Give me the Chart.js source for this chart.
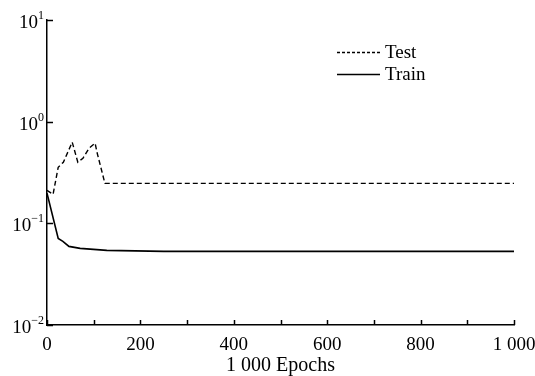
<!DOCTYPE html>
<html>
<head>
<meta charset="utf-8">
<script src="https://cdn.jsdelivr.net/npm/chart.js@4/dist/chart.umd.min.js"></script>
<style>
html,body{margin:0;padding:0;background:#fff;}
#wrap{width:535px;height:376px;}
</style>
</head>
<body>
<div id="wrap"><canvas id="c" width="535" height="376"></canvas></div>
<script>
const testEpochs = [0, 13, 24, 35, 54, 66, 77, 90, 103, 107, 124, 1000];
const testLoss   = [0.211, 0.193, 0.356, 0.399, 0.628, 0.399, 0.437, 0.548, 0.614, 0.501, 0.247, 0.247];
const trainEpochs = [0, 24, 34, 47, 71, 128, 250, 1000];
const trainLoss   = [0.198, 0.071, 0.0665, 0.0593, 0.0567, 0.0542, 0.053, 0.053];
const xTicks = [0, 200, 400, 600, 800, 1000];
const yDecades = [-2, -1, 0, 1];
const seriesNames = ['Test', 'Train'];
const xTitle = '1 000 Epochs';

const serif = "'Liberation Serif', 'Times New Roman', serif";

const toPts = (xs, ys) => xs.map((x, i) => ({x: x, y: ys[i]}));

const decor = {
  id: 'decor',
  afterDraw(chart) {
    const ctx = chart.ctx;
    const xs = chart.scales.x, ys = chart.scales.y;
    const area = chart.chartArea;
    ctx.save();
    ctx.strokeStyle = '#000';
    ctx.lineWidth = 1.5;
    for (let v = 0; v <= 1000; v += 100) {
      const px = Math.round(xs.getPixelForValue(v)) + 0.5;
      ctx.beginPath();
      ctx.moveTo(px, area.bottom);
      ctx.lineTo(px, area.bottom - 5);
      ctx.stroke();
    }
    ctx.fillStyle = '#000';
    ctx.textBaseline = 'alphabetic';
    yDecades.forEach(e => {
      const py = Math.round(ys.getPixelForValue(Math.pow(10, e))) + 0.5;
      ctx.beginPath();
      ctx.moveTo(area.left, py);
      ctx.lineTo(area.left + 6, py);
      ctx.stroke();
      const expTxt = e < 0 ? '\u2212' + Math.abs(e) : String(e);
      ctx.font = '12px ' + serif;
      const ew = ctx.measureText(expTxt).width;
      ctx.font = '19px ' + serif;
      const bw = ctx.measureText('10').width;
      const right = area.left - 3;
      ctx.textAlign = 'left';
      ctx.fillText('10', right - ew - bw, py + 7);
      ctx.font = '12px ' + serif;
      ctx.fillText(expTxt, right - ew, py - 2);
    });
    const items = [
      {label: seriesNames[0], dash: [3, 2], y: 52.5, lw: 1.3},
      {label: seriesNames[1], dash: [], y: 74.5, lw: 1.5}
    ];
    items.forEach(it => {
      ctx.setLineDash(it.dash);
      ctx.lineWidth = it.lw;
      ctx.beginPath();
      ctx.moveTo(337, it.y);
      ctx.lineTo(380, it.y);
      ctx.stroke();
      ctx.setLineDash([]);
      ctx.font = '19px ' + serif;
      ctx.textAlign = 'left';
      ctx.textBaseline = 'middle';
      ctx.fillText(it.label, 385, it.y + 1);
    });
    ctx.restore();
  }
};

new Chart(document.getElementById('c'), {
  type: 'line',
  data: {
    datasets: [
      {
        label: seriesNames[0],
        data: toPts(testEpochs, testLoss),
        borderColor: '#000',
        borderWidth: 1.4,
        borderDash: [5, 3],
        pointRadius: 0,
        tension: 0,
        fill: false
      },
      {
        label: seriesNames[1],
        data: toPts(trainEpochs, trainLoss),
        borderColor: '#000',
        borderWidth: 1.6,
        pointRadius: 0,
        tension: 0,
        fill: false
      }
    ]
  },
  options: {
    responsive: false,
    animation: false,
    layout: {padding: {top: 20, right: 21, left: 0, bottom: 0}},
    plugins: {legend: {display: false}, tooltip: {enabled: false}},
    scales: {
      x: {
        type: 'linear',
        min: 0, max: 1000,
        afterBuildTicks: s => { s.ticks = xTicks.map(v => ({value: v})); },
        afterFit: s => { s.height = 51; s.paddingLeft = 0; s.paddingRight = 0; },
        ticks: {
          color: '#000',
          padding: 9,
          maxRotation: 0,
          font: {family: serif, size: 19},
          callback: v => v === 1000 ? '1 000' : String(v)
        },
        grid: {display: false, drawTicks: false},
        border: {display: true, color: '#000', width: 1.5},
        title: {display: true, text: xTitle, color: '#000', font: {family: serif, size: 20}, padding: {top: 0, bottom: -2}}
      },
      y: {
        type: 'logarithmic',
        min: 0.01, max: 10,
        afterFit: s => { s.width = 47; s.paddingTop = 0; s.paddingBottom = 0; },
        ticks: {display: false},
        grid: {display: false, drawTicks: false},
        border: {display: true, color: '#000', width: 1.5}
      }
    }
  },
  plugins: [decor]
});
</script>
</body>
</html>
